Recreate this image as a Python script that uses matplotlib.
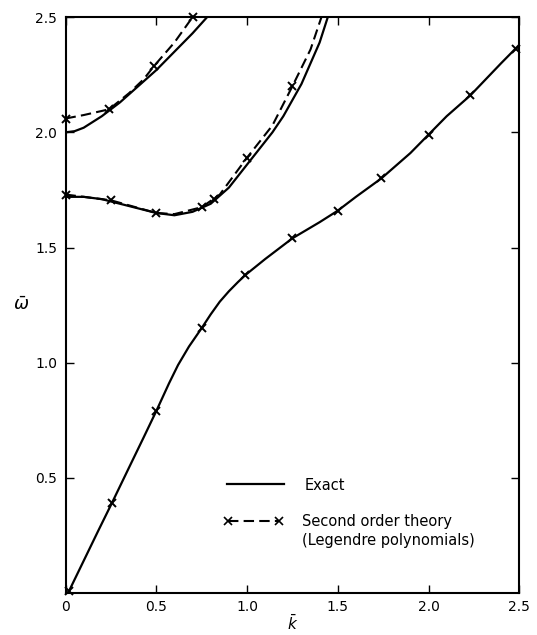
import numpy as np
import matplotlib
matplotlib.use("Agg")
import matplotlib.pyplot as plt
from matplotlib.lines import Line2D

# lowest branch (exact and second order coincide)
k_low = [0.02, 0.1, 0.18, 0.255, 0.35, 0.43, 0.5, 0.57, 0.62, 0.68, 0.75, 0.8, 0.85, 0.9, 0.95,
         0.99, 1.1, 1.25, 1.4, 1.5, 1.6, 1.74, 1.9, 2.0, 2.1, 2.23, 2.4, 2.5]
w_low = [0.01, 0.14, 0.27, 0.39, 0.545, 0.675, 0.79, 0.91, 0.99, 1.07, 1.15, 1.21, 1.265, 1.31, 1.35,
         1.38, 1.45, 1.54, 1.61, 1.66, 1.72, 1.80, 1.91, 1.99, 2.07, 2.16, 2.30, 2.38]
k_low_x = [0.02, 0.255, 0.5, 0.75, 0.99, 1.25, 1.5, 1.74, 2.0, 2.23, 2.48]
w_low_x = [0.01, 0.39, 0.79, 1.15, 1.38, 1.54, 1.66, 1.80, 1.99, 2.16, 2.36]

# middle branch
k_mid = [0.0, 0.1, 0.2, 0.3, 0.4, 0.5, 0.6, 0.7, 0.8, 0.9, 1.0, 1.08, 1.14, 1.2, 1.3, 1.4, 1.445]
w_mid = [1.72, 1.72, 1.71, 1.69, 1.67, 1.65, 1.64, 1.655, 1.69, 1.76, 1.86, 1.94, 2.0, 2.07,
         2.21, 2.39, 2.5]
k_mid2 = [0.0, 0.25, 0.5, 0.6, 0.75, 0.85, 1.0, 1.14, 1.25, 1.35, 1.41]
w_mid2 = [1.73, 1.705, 1.65, 1.645, 1.675, 1.73, 1.89, 2.03, 2.2, 2.36, 2.5]
k_mid_x = [0.0, 0.25, 0.5, 0.75, 0.82, 1.0, 1.25]
w_mid_x = [1.73, 1.705, 1.65, 1.675, 1.71, 1.89, 2.2]

# upper branch
k_up = [0.0, 0.05, 0.1, 0.2, 0.3, 0.4, 0.5, 0.6, 0.7, 0.78]
w_up = [2.0, 2.005, 2.02, 2.07, 2.13, 2.2, 2.27, 2.35, 2.43, 2.5]
k_up2 = [0.0, 0.1, 0.24, 0.35, 0.43, 0.49, 0.6, 0.7]
w_up2 = [2.06, 2.075, 2.10, 2.17, 2.23, 2.29, 2.39, 2.5]
k_up_x = [0.0, 0.24, 0.49, 0.70]
w_up_x = [2.06, 2.10, 2.29, 2.5]

xticks = [0, 0.5, 1.0, 1.5, 2.0, 2.5]
xlabels = ["0", "0.5", "1.0", "1.5", "2.0", "2.5"]
yticks = [0.5, 1.0, 1.5, 2.0, 2.5]
ylabels = ["0.5", "1.0", "1.5", "2.0", "2.5"]

fig = plt.figure(figsize=(5.37, 6.35), dpi=100)
ax = fig.add_axes([0.122, 0.066, 0.845, 0.907])

dash = (0, (5, 2.5))
ax.plot(k_low, w_low, color="black", lw=1.6)
ax.plot(k_low_x, w_low_x, "x", color="black", ms=6, mew=1.4, clip_on=False)

ax.plot(k_mid, w_mid, color="black", lw=1.6)
ax.plot(k_mid2, w_mid2, color="black", lw=1.5, ls=dash)
ax.plot(k_mid_x, w_mid_x, "x", color="black", ms=6, mew=1.4, clip_on=False)

ax.plot(k_up, w_up, color="black", lw=1.6)
ax.plot(k_up2, w_up2, color="black", lw=1.5, ls=dash)
ax.plot(k_up_x, w_up_x, "x", color="black", ms=6, mew=1.4, clip_on=False)

ax.set_xlim(0, 2.5)
ax.set_ylim(0, 2.5)
ax.set_xticks(xticks)
ax.set_xticklabels(xlabels)
ax.set_yticks(yticks)
ax.set_yticklabels(ylabels)
ax.tick_params(direction="in", length=6, width=1, top=True, right=True, labelsize=10)
ax.tick_params(axis="x", pad=5)
ax.tick_params(axis="y", pad=6)
for s in ax.spines.values():
    s.set_linewidth(1.5)

ax.set_xlabel(r"$\bar{k}$", fontsize=11, labelpad=0)
ax.set_ylabel(r"$\bar{\omega}$", fontsize=13, rotation=0, labelpad=10, va="center")

# legend: exact
leg1 = ax.legend([Line2D([], [], color="black", lw=1.6)], ["Exact"],
                 loc="center left", bbox_to_anchor=(0.356, 0.1875), frameon=False,
                 fontsize=10.5, handlelength=3.9, handletextpad=1.4,
                 borderpad=0, borderaxespad=0)
ax.add_artist(leg1)
# legend: second order theory
h2 = Line2D([], [], color="black", lw=1.5, ls=dash, marker="x", ms=6, mew=1.2)
h3 = Line2D([], [], color="none")
ax.legend([h2, h3], ["Second order theory", "(Legendre polynomials)"],
          loc="center left", bbox_to_anchor=(0.348, 0.108), frameon=False,
          fontsize=10.5, handlelength=4.1, handletextpad=1.3, numpoints=2,
          labelspacing=0.3, borderpad=0, borderaxespad=0)

fig.savefig("out.png", dpi=100)
